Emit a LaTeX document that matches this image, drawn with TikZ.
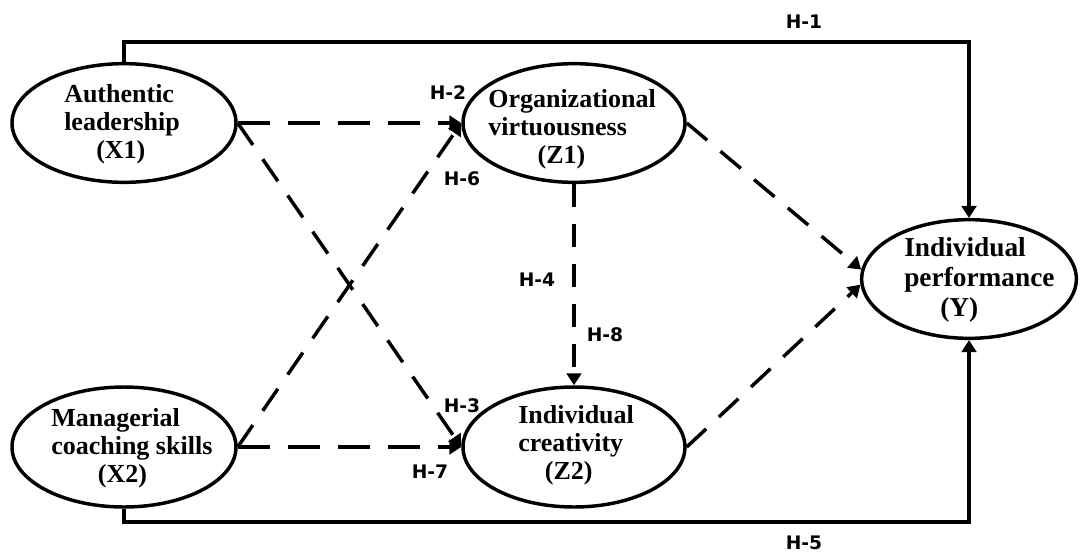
\documentclass[tikz,border=0pt]{standalone}
\usepackage{fontspec}
\setmainfont{Liberation Serif}
\newfontfamily\hfont{DejaVu Sans}
\usetikzlibrary{shapes.geometric,arrows.meta}
\begin{document}
\begin{tikzpicture}[x=0.75pt,y=-0.75pt,
  var/.style={ellipse, draw, line width=2.6pt, inner sep=0pt},
  vartext/.style={anchor=west, inner sep=0pt, align=left,
    font=\fontsize{19.5}{21}\selectfont\bfseries},
  hyp/.style={inner sep=0pt, font=\hfont\fontsize{14}{16}\selectfont\bfseries},
  solidarrow/.style={line width=2.6pt, -{Triangle[length=9pt,width=11pt]}},
  dasharrow/.style={line width=2.6pt, dash pattern=on 20pt off 13pt,
    -{Triangle[length=9pt,width=11pt]}}
]
\useasboundingbox (0,0) rectangle (1080,554);

% ellipses
\node[var, minimum width=168pt, minimum height=89pt] (x1) at (124,123) {};
\node[var, minimum width=168pt, minimum height=90pt] (x2) at (124,447) {};
\node[var, minimum width=166.5pt, minimum height=89pt] (z1) at (574,123) {};
\node[var, minimum width=166.5pt, minimum height=90pt] (z2) at (574,447) {};
\node[var, minimum width=161pt, minimum height=89pt] (y) at (969,279) {};

% texts
\node[vartext] (x1t) at (64,124) {Authentic\\leadership\\\hspace*{24pt}(X1)};
\node[vartext] (x2t) at (51,448) {Managerial\\coaching skills\\\hspace*{35pt}(X2)};
\node[vartext] (z1t) at (488,129) {Organizational\\virtuousness\\\hspace*{37pt}(Z1)};
\node[vartext] (z2t) at (518,445) {Individual\\creativity\\\hspace*{20pt}(Z2)};
\node[vartext, font=\fontsize{20.5}{22.5}\selectfont\bfseries] (yt) at (904,280) {Individual\\performance\\\hspace*{27pt}(Y)};

% solid connectors
\coordinate (topline) at (0,42);
\coordinate (botline) at (0,522);
\draw[solidarrow] (x1.north) -- (x1.north |- topline) -| (y.north);
\draw[solidarrow] (x2.south) -- (x2.south |- botline) -| (y.south);

% dashed connectors
\draw[dasharrow, dash pattern=on 24pt off 13.5pt] (x1.east) -- (z1.west);
\draw[dasharrow, dash pattern=on 24pt off 13.5pt] (x2.east) -- (z2.west);
\draw[dasharrow] (x1.east) -- (z2.west);
\draw[dasharrow] (x2.east) -- (z1.west);
\draw[dasharrow, dash pattern=on 17pt off 13pt] (z1.south) -- (z2.north);
\draw[dasharrow] (z1.east) -- (y.175);
\draw[dasharrow] (z2.east) -- (y.183);

% labels
\node[hyp] (h1) at (804,22) {H-1};
\node[hyp] (h5) at (804,543) {H-5};
\node[hyp] (h2) at (448,93) {H-2};
\node[hyp] (h6) at (462,179) {H-6};
\node[hyp] (h3) at (462,406) {H-3};
\node[hyp] (h7) at (430,472) {H-7};
\node[hyp] (h4) at (537,280) {H-4};
\node[hyp] (h8) at (605,335) {H-8};
\end{tikzpicture}
\end{document}
